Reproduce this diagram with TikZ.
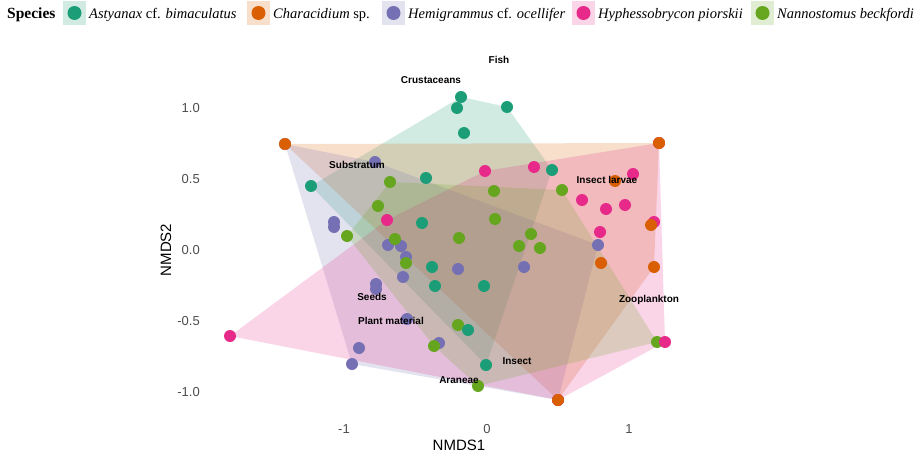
\documentclass[tikz,border=0pt]{standalone}
\usepackage{fontspec}
\setmainfont{Liberation Serif}
\newfontfamily\arial{Liberation Sans}
\definecolor{cA}{HTML}{1B9E77}
\definecolor{cB}{HTML}{D95F02}
\definecolor{cC}{HTML}{7570B3}
\definecolor{cD}{HTML}{E7298A}
\definecolor{cE}{HTML}{66A61E}
\definecolor{ticky}{HTML}{4D4D4D}
\begin{document}
\begin{tikzpicture}[x=1pt,y=-1pt,
  hull/.style={fill opacity=0.2},
  lab/.style={font=\arial\bfseries\fontsize{10}{12}\selectfont, text=black, inner sep=0pt},
  tickl/.style={font=\arial\fontsize{13}{15}\selectfont, text=ticky, inner sep=0pt},
  axtitle/.style={font=\arial\fontsize{15}{17}\selectfont, text=black, inner sep=0pt},
  legtxt/.style={font=\fontsize{14.5}{16}\selectfont, anchor=base west, inner sep=0pt},
  keybox/.style={fill opacity=0.2}]
\useasboundingbox[fill=white] (0,0) rectangle (922,455);

% ---------- hulls ----------
\fill[cA,hull] (311,186) -- (461,97) -- (507,107) -- (552,170) -- (486,365) -- cycle;
\fill[cB,hull] (285,144) -- (659,143) -- (654,267) -- (558,400) -- cycle;
\fill[cC,hull] (285,144) -- (375,162) -- (598,245) -- (558,400) -- (352,364) -- cycle;
\fill[cD,hull] (230,336) -- (387,220) -- (485,171) -- (659,143) -- (665,342) -- (558,400) -- cycle;
\fill[cE,hull] (347,236) -- (390,182) -- (562,190) -- (657,342) -- (478,386) -- (434,346) -- cycle;

% ---------- points ----------
\foreach \x/\y in {285/144,558/400,375/162,334/222,334/227,388/245,401/246,406/257,403/277,376/284,376/289,458/269,524/267,407/319,359/348,352/364,439/343}
  \fill[cC] (\x,\y) circle (6pt);
\foreach \x/\y in {390/182,378/206,347/236,395/239,406/263,459/238,494/191,562/190,495/219,531/234,519/246,540/248,458/325,434/346,478/386,657/342}
  \fill[cE] (\x,\y) circle (6pt);
\foreach \x/\y in {659/143,558/400,230/336,387/220,485/171,534/167,582/200,606/209,600/232,633/174,625/205,654/222,665/342}
  \fill[cD] (\x,\y) circle (6pt);
\foreach \x/\y in {285/144,659/143,615/181,651/225,601/263,654/267,558/400}
  \fill[cB] (\x,\y) circle (6pt);
\foreach \x/\y in {461/97,457/108,507/107,464/133,311/186,426/178,552/170,422/223,432/267,435/286,484/286,468/330,486/365}
  \fill[cA] (\x,\y) circle (6pt);
\fill[cC] (598,245) circle (6pt);

% ---------- diet labels ----------
\node[lab] (fish) at (499,60) {Fish};
\node[lab] (crus) at (431,80) {Crustaceans};
\node[lab] (subs) at (357,165) {Substratum};
\node[lab] (larv) at (607,180) {Insect larvae};
\node[lab] (zoop) at (649,300) {Zooplankton};
\node[lab] (seed) at (372,297) {Seeds};
\node[lab] (plan) at (391,321) {Plant material};
\node[lab] (inse) at (517,361) {Insect};
\node[lab] (aran) at (459,380) {Araneae};

% ---------- axes ----------
\node[tickl,anchor=east] (y1) at (200,108) {1.0};
\node[tickl,anchor=east] (y2) at (200,179) {0.5};
\node[tickl,anchor=east] (y3) at (200,250) {0.0};
\node[tickl,anchor=east] (y4) at (200,321) {-0.5};
\node[tickl,anchor=east] (y5) at (200,392) {-1.0};
\node[tickl] (x1) at (344,429) {-1};
\node[tickl] (x2) at (487,429) {0};
\node[tickl] (x3) at (629,429) {1};
\node[axtitle] (xt) at (459,445) {NMDS1};
\node[axtitle,rotate=90] (yt) at (166,250) {NMDS2};

% ---------- legend ----------
\node[legtxt,font=\bfseries\fontsize{15.5}{17}\selectfont] (sp) at (7,19) {Species};
\fill[cA,keybox] (63,1) rectangle (86,25);   \fill[cA] (74.5,13) circle (7pt);
\fill[cB,keybox] (247,1) rectangle (270,25); \fill[cB] (258.5,13) circle (7pt);
\fill[cC,keybox] (382,1) rectangle (405,25); \fill[cC] (393.5,13) circle (7pt);
\fill[cD,keybox] (572,1) rectangle (595,25); \fill[cD] (583.5,13) circle (7pt);
\fill[cE,keybox] (751,1) rectangle (774,25); \fill[cE] (762.5,13) circle (7pt);
\node[legtxt] (la) at (89,19) {\textit{Astyanax} cf. \textit{bimaculatus}};
\node[legtxt] (lb) at (273,19) {\textit{Characidium} sp.};
\node[legtxt] (lc) at (408,19) {\textit{Hemigrammus} cf. \textit{ocellifer}};
\node[legtxt] (ld) at (598,19) {\textit{Hyphessobrycon piorskii}};
\node[legtxt] (le) at (777,19) {\textit{Nannostomus beckfordi}};
\end{tikzpicture}
\end{document}
